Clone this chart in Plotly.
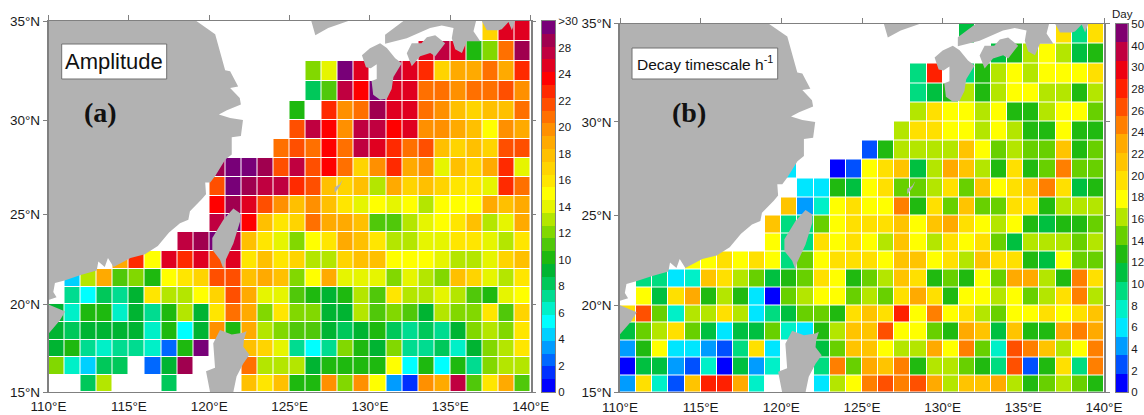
import numpy as np
import plotly.graph_objects as go

_ = None
LON_EDGES = list(range(110, 141))
LAT_EDGES = list(range(15, 36))

# band index per 1 degree cell, rows from 34-35N (first) down to 15-16N (last), columns 110E..139E
amplitude = [
 [_]*27 + [17,25,25],
 [_]*23 + [25,26,25,10,12,21,27],
 [_]*16 + [12,14,28,25,_,26,25,23,17,19,19,21,19,23],
 [_]*16 + [8,11,26,24,28,25,25,21,21,20,21,21,22,20],
 [_]*15 + [10,_,23,20,21,27,25,25,21,20,18,17,18,18,21],
 [_]*15 + [22,26,24,20,26,26,24,25,20,20,19,18,15,20,19],
 [_]*14 + [21,22,21,24,21,26,25,23,21,22,18,17,18,17,22,22],
 [_]*10 + [27,28,28,27,22,26,22,24,21,17,20,23,19,20,14,18,17,19,23,14],
 [_]*10 + [22,28,27,26,26,23,22,18,17,18,13,19,17,18,17,16,16,14,23,21],
 [_]*10 + [24,27,25,22,20,18,20,18,16,14,15,14,15,13,15,15,15,19,18,19],
 [_]*10 + [26,28,24,18,16,17,21,19,19,18,11,11,13,14,15,16,18,13,14,19],
 [_]*8 + [26,27,28,26,18,16,14,12,15,16,19,18,16,13,13,14,14,16,16,14,13,16],
 [_]*4 + [19,23,15,25,23,25,22,25,16,18,16,17,13,13,17,18,18,15,15,15,14,13,13,14,17,18],
 [_,4,13,19,11,12,10,15,16,17,22,22,18,19,18,12,15,19,14,14,14,12,14,13,12,18,17,14,13,16],
 [_,7,5,8,7,9,16,13,13,15,17,22,19,14,14,11,10,9,10,13,11,16,13,13,14,13,11,10,14,15],
 [9,6,10,10,6,9,7,10,13,9,16,21,19,12,16,12,12,9,9,13,11,12,11,9,13,12,12,16,11,17],
 [9,8,9,9,9,9,6,10,5,9,20,10,19,13,12,11,11,9,8,9,10,8,7,8,7,9,12,13,12,16],
 [9,10,7,6,7,7,6,2,10,28,_,_,18,17,14,7,5,7,12,10,9,12,7,7,8,6,9,12,13,16],
 [12,6,4,8,8,_,2,9,27,_,_,_,21,13,13,13,9,10,10,10,10,15,5,10,5,10,7,12,13,13],
 [_,_,8,13,_,_,_,8,_,_,_,_,18,16,18,10,10,20,12,20,15,3,1,20,19,26,11,16,19,11],
]

decay = [
 [_]*21 + [6] + [_]*5 + [11,5,11],
 [_]*23 + [6,7,9,10,9,6,7],
 [_]*18 + [5,16,_,5,7,9,10,9,10,10,10,11],
 [_]*18 + [5,6,7,9,7,9,10,10,9,9,7,9],
 [_]*18 + [9,11,10,10,9,10,7,7,9,10,10,8],
 [_]*17 + [9,11,11,10,10,9,10,9,7,7,10,7,7],
 [_]*15 + [1,7,9,9,9,9,12,10,8,9,8,8,12,7,8],
 [_]*10 + [3,_,_,0,1,10,11,12,6,9,13,12,9,7,11,7,8,14,8,8],
 [_]*11 + [3,3,7,6,10,11,8,8,9,11,8,12,10,11,12,14,11,6,7],
 [_]*10 + [12,2,4,10,11,10,10,14,7,11,8,12,8,8,11,11,7,9,9,9],
 [_]*9 + [12,5,5,8,10,11,11,11,12,10,12,13,11,10,9,10,7,6,7,7,8],
 [_]*9 + [10,5,5,11,10,11,10,9,12,10,9,11,10,11,8,6,9,9,9,8,9],
 [_]*4 + [10,10,11,10,11,10,5,8,10,11,11,11,10,12,12,10,11,9,12,11,11,7,6,10,8,8],
 [_,5,5,3,4,12,11,9,8,6,7,8,11,10,7,8,9,12,11,7,8,7,10,8,13,13,9,7,14,11],
 [_,10,6,11,13,7,9,7,3,0,8,9,10,10,8,9,8,11,13,11,7,10,10,9,10,8,9,11,14,9],
 [11,15,8,4,9,9,11,9,3,5,6,8,8,7,11,12,11,16,10,14,10,11,9,8,10,10,11,10,11,12],
 [6,8,9,11,8,6,3,6,6,8,4,3,7,9,12,12,15,10,10,8,7,13,12,6,12,7,7,13,14,13],
 [2,7,10,3,3,2,1,5,11,3,_,_,6,8,12,12,10,9,9,13,10,14,8,4,15,14,12,9,10,14],
 [0,6,6,2,1,4,0,6,2,4,_,_,5,14,8,13,12,14,7,9,9,8,7,5,15,1,7,11,5,14],
 [2,11,4,1,12,16,16,13,4,_,_,_,3,9,10,14,15,14,15,13,9,12,12,13,9,7,8,9,8,7],
]

AMP_COLORS = ["#0000ff","#0030ff","#0068ff","#009cff","#00d0ff","#00ffff","#00f0c8","#00dc90","#00c85a","#00b432",
              "#1eb90f","#50c80a","#82d800","#b4e600","#e6f500","#ffff00","#ffe600","#ffd400","#ffc000","#ffaa00",
              "#ff9000","#ff7000","#ff4f00","#ff2a00","#ff0000","#e00020","#c00040","#a0004f","#780078"]
DECAY_COLORS = ["#0000ff","#0050ff","#009cff","#00e6ff","#00f0c8","#00dc80","#00c040","#20ba10","#68d000","#b4e600",
                "#ffff00","#ffe000","#ffc400","#ffaa00","#ff7f00","#ff5000","#ff2000","#ee0010","#c00040","#800070"]
AMP_TICKS = ["0","2","4","6","8","10","12","14","16","18","20","22","24","28",">30"]
DECAY_TICKS = ["0","2","4","6","8","10","12","14","16","18","20","22","24","26","28","30","40","50"]
LON_TICKS = [110,115,120,125,130,135,140]
LAT_TICKS = [15,20,25,30,35]

# land outlines, degrees
china_lon = [110,110,119.2,120.37,120.99,121.3,121.8,121.3,121.9,121.97,121.1,120.6,121.3,122.1,121.97,121.4,121.4,121,120.37,120.06,119.75,119.8,119.53,118.8,118.7,118.18,117.5,116.8,116,115.1,114.05,113.7,113.5,113.1,113,112,111,110.4,110.3,110.5,110]
china_lat = [20.25,35,35,34.35,32.55,32.5,31.72,31.65,31.13,30.8,30.5,30.28,30.1,30,29.17,29.1,28.2,27.93,27.05,26.7,26.7,26.08,25.8,25.15,24.7,24.5,24,23.25,22.8,22.6,22.1,22.6,22.1,22.4,21.9,21.65,21.35,21.2,20.7,20.4,20.25]
hainan_lon = [110,111.04,110.7,110.4,110]
hainan_lat = [20,19.6,19.1,18.75,18.35]
taiwan_lon = [121.5,121.92,121.92,121.5,120.98,120.88,120.67,120.19,120.19,120.88]
taiwan_lat = [25.3,25.05,24.6,23.4,22.4,22,22.5,23.05,23.7,24.7]
luzon_lon = [120.67,121.4,122.1,122.33,122.16,122.12,122.5,122.12,121.7,121.5,120.05,119.8,120.36,120.25]
luzon_lat = [18.55,18.3,18.4,18.5,18,17.6,17.15,16.65,15.9,15,15,16.2,16.4,17.8]
korea_lon = [126.35,126.6,127.4,128.65]
korea_lat = [35,34.3,34.65,35]
kyushu_lon = [129.5,130,130.63,131.05,131.57,131.98,131.46,131.35,131.05,130.63,130.2,130.1,130.42,130.42,130.05,129.75]
kyushu_lat = [33.3,33.65,33.9,33.67,33.15,32.9,32.2,31.6,31.1,31.05,31.3,32,32.1,32.85,32.65,32.7]
shikoku_lon = [132.29,132.6,133.2,133.54,134.06,134.68,134.06,133.75,133.12,132.6]
shikoku_lat = [33.4,33.9,33.9,34.2,34.3,33.9,33.25,33.42,33.25,32.75]
honshu_lon = [130.94,132.08,136.6,136.44,136.86,136.03,135.72,135.3,135.09,135.2,134.47,133.74,132.29,130.94]
honshu_lat = [34.32,35,35,34.5,34,34,33.42,33.6,34.15,34.65,34.78,34.65,34.15,33.87]
chubu_lon = [136.96,137.27,138,138.2,138.62,138.83,139.03]
chubu_lat = [35,34.55,34.55,34.6,34.95,34.55,35]
okinawa_lon = [128.25,128.1,127.8,127.8,127.95,128.15,128.3]
okinawa_lat = [26.8,26.6,26.45,26.15,26.3,26.55,26.85]
LAND = [(china_lon,china_lat),(hainan_lon,hainan_lat),(taiwan_lon,taiwan_lat),(luzon_lon,luzon_lat),
        (korea_lon,korea_lat),(kyushu_lon,kyushu_lat),(shikoku_lon,shikoku_lat),(honshu_lon,honshu_lat),
        (chubu_lon,chubu_lat),(okinawa_lon,okinawa_lat)]

W, H = 1144, 415
GREY = "#808080"
FONT = "Liberation Sans"

def merc(lat):
    return np.log(np.tan(np.pi/4 + np.radians(np.asarray(lat, float))/2))

def stepped(colors):
    n = len(colors)
    out = []
    for i, c in enumerate(colors):
        out += [[i/n, c], [(i+1)/n, c]]
    return out

def dom(a, b, size):
    return [a/size, b/size]

land_x, land_y = [], []
for lo, la in LAND:
    land_x += list(lo) + [lo[0], None]
    land_y += [float(v) for v in merc(la)] + [float(merc(la[0])), None]

fig = go.Figure()
layout = dict(template="none", width=W, height=H, margin=dict(l=0, r=0, t=0, b=0), autosize=False,
              paper_bgcolor="white", plot_bgcolor="white", showlegend=False,
              font=dict(family=FONT, color="#1a1a1a"))
annots = []
shapes = []

panels = [
  dict(n="", z=amplitude, colors=AMP_COLORS, ticks=AMP_TICKS, x=(48.5,530.7), y=(21,392), cb=(542,555), cby=(21,392),
       box=(61.7,166.7,44,79), title="Amplitude", tsize=22, tag="(a)", tagx=100),
  dict(n="3", z=decay, colors=DECAY_COLORS, ticks=DECAY_TICKS, x=(620,1104), y=(23.5,392.3), cb=(1115.7,1128), cby=(24,392.3),
       box=(632,777.7,48,79), title="Decay timescale h<sup>-1</sup>", tsize=15.5, tag="(b)", tagx=689),
]
axis_no = {"": ("x","y","x2","y2","x5","y5"), "3": ("x3","y3","x4","y4","x6","y6")}

def k(a):
    return "xaxis"+a[1:] if a.startswith("x") else "yaxis"+a[1:]

for p in panels:
    xa, ya, cxa, cya, txa, tya = axis_no[p["n"]]
    nc = len(p["colors"])
    fig.add_trace(go.Heatmap(z=p["z"][::-1], x=LON_EDGES, y=merc(LAT_EDGES), colorscale=stepped(p["colors"]),
                             zmin=-0.5, zmax=nc-0.5, showscale=False, xgap=1, ygap=1, hoverongaps=False,
                             xaxis=xa, yaxis=ya))
    fig.add_trace(go.Scatter(x=land_x, y=land_y, mode="lines", line=dict(width=0, color="#b2b2b2"),
                             fill="toself", fillcolor="#b2b2b2", hoverinfo="skip", xaxis=xa, yaxis=ya))
    # tick marks along the top: a second, label-free x axis
    fig.add_trace(go.Scatter(x=[110], y=[float(merc(15))], mode="markers", marker=dict(opacity=0), hoverinfo="skip",
                             xaxis=txa, yaxis=tya))
    fig.add_trace(go.Heatmap(z=[[i] for i in range(nc)], x=[0,1], y=list(range(nc+1)), colorscale=stepped(p["colors"]),
                             zmin=-0.5, zmax=nc-0.5, showscale=False, xaxis=cxa, yaxis=cya))
    xr = [110,140]; yr = [float(merc(15)), float(merc(35))]
    xdom = dom(p["x"][0], p["x"][1], W)
    ydom = [1-p["y"][1]/H, 1-p["y"][0]/H]
    layout[k(xa)] = dict(domain=xdom, range=xr, anchor=ya, tickvals=LON_TICKS, ticktext=[f"{v}°E" for v in LON_TICKS],
                         ticks="outside", ticklen=2, tickcolor="rgba(0,0,0,0)", showgrid=False, zeroline=False, showline=True,
                         linecolor=GREY, linewidth=1, automargin=False,
                         tickfont=dict(size=13.5), layer="above traces", tickangle=0)
    layout[k(ya)] = dict(domain=ydom, range=yr, anchor=xa, tickvals=[float(v) for v in merc(LAT_TICKS)],
                         ticktext=[f"{v}°N" for v in LAT_TICKS], automargin=False,
                         ticks="outside", ticklen=4, tickcolor=GREY, mirror="ticks", showgrid=False, zeroline=False,
                         showline=True, linecolor=GREY, linewidth=1.5, tickfont=dict(size=13.5), layer="above traces")
    layout[k(txa)] = dict(domain=xdom, range=xr, anchor=tya, side="top", overlaying=xa, tickvals=LON_TICKS, showticklabels=False,
                          ticks="outside", ticklen=5, tickcolor=GREY, showgrid=False, zeroline=False, showline=True,
                          linecolor=GREY, linewidth=1, automargin=False)
    layout[k(tya)] = dict(domain=ydom, range=yr, anchor=txa, overlaying=ya, visible=False)
    cby = p["cby"]
    layout[k(cxa)] = dict(domain=dom(p["cb"][0], p["cb"][1], W), range=[0,1], anchor=cya, showticklabels=False, ticks="",
                          showgrid=False, zeroline=False, showline=True, mirror=True, linecolor=GREY, linewidth=1, automargin=False)
    step = nc/(len(p["ticks"])-1)
    layout[k(cya)] = dict(domain=[1-cby[1]/H, 1-cby[0]/H], range=[0,nc], anchor=cxa, side="right",
                          tickvals=[i*step for i in range(len(p["ticks"]))], ticktext=p["ticks"], ticks="", ticklen=0,
                          showgrid=False, zeroline=False, showline=True, mirror=True, linecolor=GREY, linewidth=1,
                          tickfont=dict(size=11.5), automargin=False)
    b = p["box"]
    shapes.append(dict(type="rect", xref="paper", yref="paper", x0=b[0]/W, x1=b[1]/W, y0=1-b[3]/H, y1=1-b[2]/H,
                       fillcolor="white", line=dict(color="#707070", width=1), layer="above"))
    annots.append(dict(xref="paper", yref="paper", x=(b[0]+b[1])/2/W, y=1-(b[2]+b[3])/2/H, text=p["title"], showarrow=False,
                       xanchor="center", yanchor="middle", font=dict(size=p["tsize"], color="#111111")))
    annots.append(dict(xref="paper", yref="paper", x=p["tagx"]/W, y=1-112/H, text="<b>"+p["tag"]+"</b>", showarrow=False,
                       xanchor="center", yanchor="middle", font=dict(size=28, family="Liberation Serif", color="#111111")))
annots.append(dict(xref="paper", yref="paper", x=1122/W, y=1-14/H, text="Day", showarrow=False, xanchor="center",
                   yanchor="middle", font=dict(size=11.5, color="#1a1a1a")))
layout["annotations"] = annots
layout["shapes"] = shapes
fig.update_layout(**layout)
fig.write_html("out.html", config=dict(displayModeBar=False),
               post_script="document.body.style.margin='0';document.body.style.overflow='hidden';")
